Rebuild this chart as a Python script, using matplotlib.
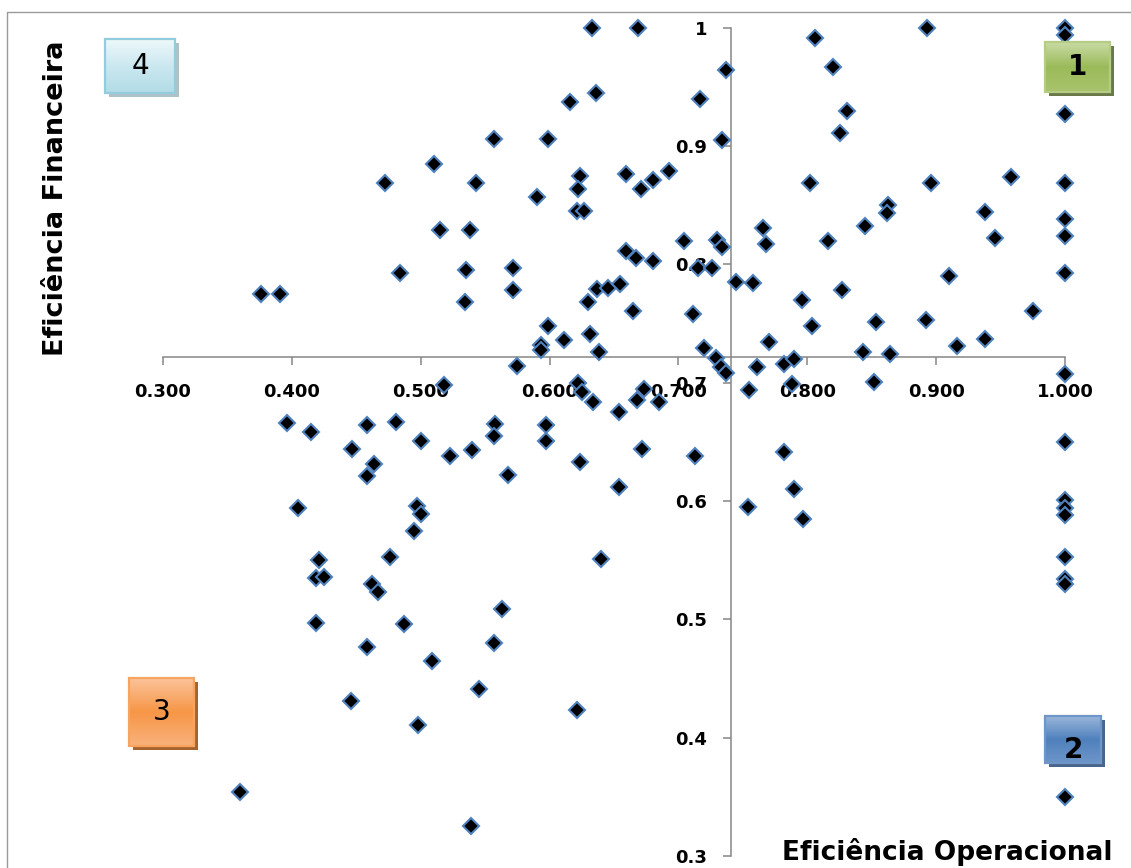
"""
Matriz de eficiência: Eficiência Operacional x Eficiência Financeira
Gráfico de dispersão com eixos cruzando no meio e quadrantes numerados
"""

import numpy as np
import matplotlib
matplotlib.use("Agg")
import matplotlib.pyplot as plt
from matplotlib.patches import Rectangle
from matplotlib.colors import LinearSegmentedColormap


# ---- dados ----
efic_operacional = [
    # quadrante 4 (esq/cima)
    0.633, 0.636, 0.616, 0.557, 0.599, 0.510, 0.472, 0.543, 0.624, 0.622,
    0.590, 0.621, 0.627, 0.515, 0.538, 0.484, 0.535, 0.572, 0.572, 0.376,
    0.391, 0.534, 0.630, 0.637, 0.645, 0.655, 0.599, 0.611, 0.631, 0.638,
    0.593, 0.593, 0.575,
    # quadrante 3 (esq/baixo)
    0.518, 0.622, 0.625, 0.634, 0.654, 0.396, 0.415, 0.458, 0.481, 0.447,
    0.500, 0.464, 0.458, 0.523, 0.540, 0.558, 0.557, 0.597, 0.597, 0.568,
    0.624, 0.654, 0.405, 0.497, 0.500, 0.495, 0.476, 0.421, 0.419, 0.425,
    0.462, 0.467, 0.563, 0.419, 0.487, 0.458, 0.557, 0.509, 0.545, 0.446,
    0.621, 0.498, 0.360, 0.539, 0.640, 0.672, 0.713, 0.673, 0.685, 0.668,
    # lado direito / centro
    0.669, 0.806, 0.893, 1.000, 1.000, 0.820, 0.737, 0.717, 0.831, 0.825,
    1.000, 0.734, 0.659, 0.671, 0.680, 0.693, 0.802, 0.896, 0.958, 1.000,
    0.863, 0.862, 0.845, 0.766, 0.768, 0.938, 0.946, 1.000, 1.000, 0.704,
    0.730, 0.734, 0.816, 0.659, 0.667, 0.680, 0.715, 0.726, 0.910, 1.000,
    0.745, 0.758, 0.827, 0.796, 0.665, 0.711, 0.975, 0.804, 0.853, 0.892,
    0.938, 0.916, 0.770, 0.720, 0.729, 0.843, 0.864, 0.782, 0.790, 0.761,
    0.733, 0.737, 1.000, 0.852, 0.788, 0.755,
    # quadrante 2 (dir/baixo)
    0.754, 0.782, 0.790, 0.797, 1.000, 1.000, 1.000, 1.000, 1.000, 1.000,
    1.000, 1.000,
]
efic_financeira = [
    1.000, 0.945, 0.937, 0.906, 0.906, 0.885, 0.869, 0.869, 0.875, 0.864,
    0.857, 0.845, 0.845, 0.829, 0.829, 0.793, 0.795, 0.797, 0.778, 0.775,
    0.775, 0.768, 0.768, 0.779, 0.780, 0.783, 0.748, 0.736, 0.741, 0.726,
    0.732, 0.728, 0.714,
    0.698, 0.700, 0.692, 0.684, 0.675, 0.666, 0.658, 0.664, 0.667, 0.644,
    0.651, 0.631, 0.621, 0.638, 0.643, 0.665, 0.655, 0.664, 0.651, 0.622,
    0.633, 0.612, 0.594, 0.596, 0.589, 0.575, 0.553, 0.550, 0.535, 0.536,
    0.530, 0.523, 0.509, 0.497, 0.496, 0.477, 0.480, 0.465, 0.441, 0.431,
    0.423, 0.411, 0.354, 0.325, 0.551, 0.644, 0.638, 0.695, 0.684, 0.685,
    1.000, 0.991, 1.000, 1.000, 0.994, 0.967, 0.964, 0.940, 0.930, 0.911,
    0.927, 0.905, 0.876, 0.864, 0.871, 0.879, 0.869, 0.869, 0.874, 0.869,
    0.850, 0.843, 0.832, 0.831, 0.817, 0.844, 0.822, 0.838, 0.824, 0.820,
    0.821, 0.815, 0.820, 0.811, 0.805, 0.803, 0.797, 0.797, 0.790, 0.793,
    0.785, 0.784, 0.778, 0.770, 0.761, 0.758, 0.761, 0.748, 0.751, 0.753,
    0.737, 0.731, 0.734, 0.729, 0.721, 0.726, 0.724, 0.716, 0.720, 0.713,
    0.713, 0.708, 0.707, 0.701, 0.699, 0.694,
    0.595, 0.641, 0.610, 0.585, 0.650, 0.601, 0.594, 0.588, 0.553, 0.534,
    0.530, 0.350,
]

x_ticks = [0.3, 0.4, 0.5, 0.6, 0.7, 0.8, 0.9, 1.0]
x_tick_labels = ["0.300", "0.400", "0.500", "0.600", "0.700", "0.800", "0.900", "1.000"]
y_ticks = [0.3, 0.4, 0.5, 0.6, 0.7, 0.8, 0.9, 1.0]
y_tick_labels = ["0.3", "0.4", "0.5", "0.6", "0.7", "0.8", "0.9", "1"]

# ponto onde os eixos se cruzam
cruz_x = 0.741
cruz_y = 0.722

quadrantes = ["1", "2", "3", "4"]

W, H = 1131, 868
CINZA = "#868686"


def caixa_quadrante(ax, x0, y0, w, h, cores, borda, sombra, texto, negrito, dy=0.0):
    """Caixa com gradiente e sombra (estilo Office)"""
    ax.add_patch(Rectangle((x0 + 4, y0 + 4), w, h, color=sombra, alpha=0.85,
                           lw=0, zorder=1))
    cmap = LinearSegmentedColormap.from_list("grad", cores)
    grad = np.linspace(0, 1, 200).reshape(-1, 1)
    ax.imshow(grad, cmap=cmap, extent=(x0, x0 + w, y0 + h, y0),
              aspect="auto", interpolation="bilinear", zorder=2)
    rect = Rectangle((x0, y0), w, h, fill=False, edgecolor=borda, lw=1.6, zorder=3)
    ax.add_patch(rect)
    t = ax.text(x0 + w / 2, y0 + h / 2 + dy, texto, ha="center", va="center",
                fontsize=20, fontweight="bold" if negrito else "normal",
                color="black", zorder=4)
    t.set_clip_path(rect)


fig = plt.figure(figsize=(W / 100, H / 100), dpi=100)
ax = fig.add_axes([163 / W, 1 - 856 / H, (1065 - 163) / W, (856 - 27.7) / H])

ax.plot(efic_operacional, efic_financeira, linestyle="none", marker="D",
        markersize=8.6, markerfacecolor="black", markeredgecolor="#4f81bd",
        markeredgewidth=1.5, clip_on=False, zorder=3)

ax.set_xlim(0.3, 1.0)
ax.set_ylim(0.3, 1.0)
ax.set_xticks(x_ticks)
ax.set_xticklabels(x_tick_labels)
ax.set_yticks(y_ticks)
ax.set_yticklabels(y_tick_labels)

for s in ["top", "right"]:
    ax.spines[s].set_visible(False)
ax.spines["left"].set_position(("data", cruz_x))
ax.spines["bottom"].set_position(("data", cruz_y))
for s in ["left", "bottom"]:
    ax.spines[s].set_color(CINZA)
    ax.spines[s].set_linewidth(1.1)
    ax.spines[s].set_zorder(1)

ax.tick_params(axis="both", direction="out", length=5.8, width=1.1, color=CINZA,
               labelsize=13)
ax.tick_params(axis="x", pad=13)
ax.tick_params(axis="y", pad=11.5)
for lab in ax.get_xticklabels() + ax.get_yticklabels():
    lab.set_fontweight("bold")
ax.patch.set_visible(False)

# títulos dos eixos
fig.text(56 / W, 1 - 198 / H, "Eficiência Financeira", rotation=90,
         ha="center", va="center", fontsize=19.5, fontweight="bold")
fig.text(1113 / W, 1 - 852 / H, "Eficiência Operacional",
         ha="right", va="center", fontsize=19, fontweight="bold")

# camada em pixels para moldura e caixas dos quadrantes
ov = fig.add_axes([0, 0, 1, 1], zorder=5)
ov.patch.set_visible(False)
ov.axis("off")

ov.plot([7, 7, W + 5], [H + 5, 12, 12], color="#9a9a9a", lw=1.0)

caixa_quadrante(ov, 1045, 42, 65, 50, ["#c9dba6", "#9bbb59", "#a9c46d"],
                "#b4cc84", "#4f6228", quadrantes[0], True)
caixa_quadrante(ov, 1045, 716, 56, 47, ["#9bb6da", "#4f81bd", "#6e95c8"],
                "#6f96c9", "#2a4a75", quadrantes[1], True, dy=10)
caixa_quadrante(ov, 129, 678, 65, 68, ["#fbc39a", "#f79646", "#f9b27c"],
                "#f7a461", "#984807", quadrantes[2], False)
caixa_quadrante(ov, 105, 39, 70, 54, ["#eef8fa", "#cbe8f0", "#b2dce7"],
                "#93cddd", "#9fb8bf", quadrantes[3], False)

ov.set_xlim(0, W)
ov.set_ylim(H, 0)

fig.savefig("out.png", dpi=100)
